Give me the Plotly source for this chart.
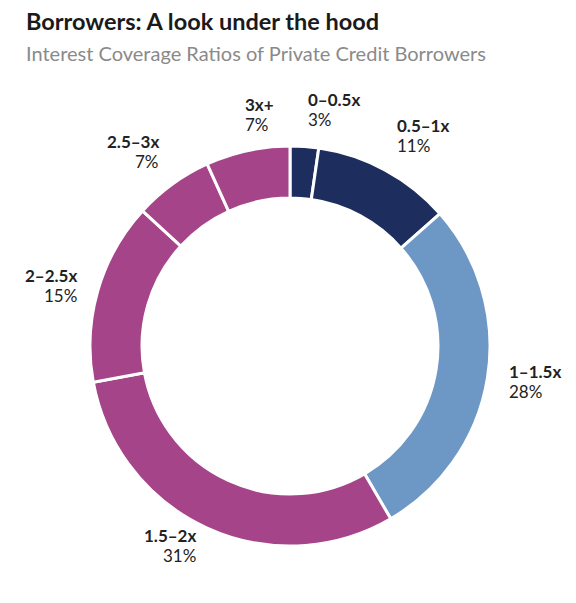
import numpy as np
import plotly.graph_objects as go

# data
ranges = ['0–0.5x', '0.5–1x', '1–1.5x', '1.5–2x', '2–2.5x', '2.5–3x', '3x+']
shares = [2.3, 11.2, 28.1, 30.5, 14.7, 6.4, 6.8]          # slice sizes (measured angles)
share_labels = ['3%', '11%', '28%', '31%', '15%', '7%', '7%']  # printed values

navy = '#1d2d5e'
blue = '#6d98c6'
purple = '#a54489'
colors = [navy, navy, blue, purple, purple, purple, purple]

W, H = 576, 603
# ring geometry in pixels (page body adds an 8px margin)
cx_px, cy_px, r_px = 282, 338, 200

dom_x = [(cx_px - r_px) / W, (cx_px + r_px) / W]
dom_y = [(H - cy_px - r_px) / H, (H - cy_px + r_px) / H]

fig = go.Figure(go.Pie(
    labels=ranges,
    values=shares,
    sort=False,
    direction='clockwise',
    rotation=0,
    hole=0.74,
    marker=dict(colors=colors, line=dict(color='white', width=3)),
    textinfo='none',
    hoverinfo='label+percent',
    domain=dict(x=dom_x, y=dom_y),
    showlegend=False,
))

# outside labels at the middle angle of each slice
vals = np.array(shares, dtype=float)
cum = np.cumsum(vals) - vals / 2
ang = cum / vals.sum() * 2 * np.pi
rl = r_px * 1.1
line_gap = 10  # half the distance between the two label lines, px
for name, pct, a in zip(ranges, share_labels, ang):
    s, c = np.sin(a), np.cos(a)
    left_side = s < -0.3
    lx = cx_px + rl * s
    ly = cy_px - rl * c
    if c > 0.5:          # labels above the ring sit on top of their anchor
        ly -= 17
    for txt, dy in ((f'<b>{name}</b>', line_gap), (pct, -line_gap)):
        fig.add_annotation(
            x=lx / W, y=1 - ly / H, yshift=dy,
            xref='paper', yref='paper',
            text=txt, showarrow=False,
            xanchor='right' if left_side else 'left',
            yanchor='middle',
            font=dict(family='Lato', size=17, color='#222222'),
        )

fig.add_annotation(
    x=16 / W, y=1, yshift=3, xref='paper', yref='paper',
    text='<b>Borrowers: A look under the hood</b>',
    showarrow=False, xanchor='left', yanchor='top',
    font=dict(family='Lato', size=23.5, color='#1a1a1a'),
)
fig.add_annotation(
    x=16 / W, y=1 - 31 / H, xref='paper', yref='paper',
    text='Interest Coverage Ratios of Private Credit Borrowers',
    showarrow=False, xanchor='left', yanchor='top',
    font=dict(family='Lato', size=20, color='#8a8a8a'),
)

fig.update_layout(
    width=W, height=H,
    margin=dict(l=0, r=0, t=0, b=0),
    paper_bgcolor='white',
    plot_bgcolor='white',
)

fig.write_html('out.html')
